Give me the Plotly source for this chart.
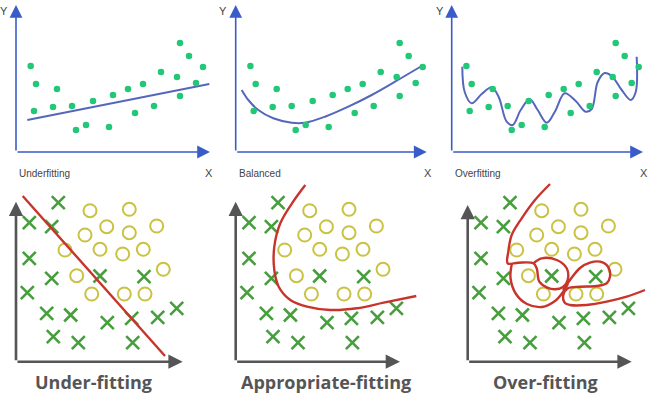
import plotly.graph_objects as go

# ---------------- data ----------------
# Regression panels (same scatter in all three top panels)
REG_X = [14.7, 20, 18, 41, 37, 56, 60, 70, 77, 93, 97, 112, 119, 127, 138, 145, 161, 164, 164, 173, 180, 187]
REG_Y = [86, 68, 41, 63, 45, 46, 22, 27, 51, 25, 57, 63, 39, 68, 46, 80, 75, 56, 109, 96, 69, 85]

UNDER_LINE_X = [11.3, 193.3]
UNDER_LINE_Y = [32, 68]

BAL_CURVE_X = [6, 12.6, 22.6, 37.6, 56, 69.3, 89.3, 112.6, 136, 159.3, 186]
BAL_CURVE_Y = [62, 52, 42, 33.7, 29.3, 29.3, 35.3, 45.3, 57, 70.3, 86]

OVER_CURVE_X = [10.6, 13, 20, 30, 40, 47, 55, 61, 69, 78, 86, 95, 103, 113, 124, 134,
                140, 146, 153, 160, 170, 179, 184, 185]
OVER_CURVE_Y = [85.3, 60, 48.7, 58, 64.7, 55, 30.3, 27, 42, 52.7, 42, 29.3, 40, 58.7, 51, 40.3,
                43, 70, 79, 76, 62, 52, 60, 95.3]

# Classification panels (same points in all three bottom panels)
CROSS_X = [42.3, 13.3, 35.7, 13.3, 35.7, 84, 128, 11.3, 30.7, 54.7, 91.3, 115.7, 141.7, 160.7, 37.3, 62.3, 116.7]
CROSS_Y = [159, 139, 135, 103.4, 83.4, 85.7, 85, 69, 48.4, 46.7, 39, 43.4, 44.4, 53.4, 25, 19, 19]
CIRC_X = [74, 113.3, 90.7, 69, 113.3, 140.7, 49, 84, 106.7, 127.3, 147.3, 60.7, 75.7, 108.3, 129]
CIRC_Y = [151, 152.4, 135, 126.7, 129, 135.7, 111.7, 112.4, 107.7, 112.4, 92.4, 86, 67.7, 67.7, 67.7]

CLS_UNDER_X = [6.7, 149]
CLS_UNDER_Y = [165.7, 5.7]

CLS_BAL_X = [69.6, 56.3, 44.6, 38.6, 38.6, 43, 54.6, 71.3, 94.6, 121.3, 148, 180.6]
CLS_BAL_Y = [176.7, 158.4, 138.4, 115, 91.7, 75, 61.7, 55, 51.7, 53.4, 59, 65.7]

CLS_OVER_A_X = [82.3, 67.3, 54, 44, 40.6, 40, 50.6, 65.6, 69, 71.6, 79, 87.3, 95.6, 100, 99, 89, 74, 65.6]
CLS_OVER_A_Y = [177.7, 161.7, 143.4, 126.7, 110, 98.4, 99, 98.4, 93.4, 80, 74.4, 72.4, 75, 81.7, 93.4, 101.7, 103.4, 98.4]
CLS_OVER_B_X = [44.3, 42.8, 48.3, 59.3, 74.3, 87.3, 95.3, 100.3]
CLS_OVER_B_Y = [98.7, 83.7, 67.7, 57.7, 54.7, 60.7, 69.7, 77.7]
CLS_OVER_C_X = [95.3, 102.3, 112.3, 122.3, 132.3, 140.3, 142.3, 139, 129, 112.3, 100.3, 95.6, 97.3, 102.3, 119, 139, 159, 177.3]
CLS_OVER_C_Y = [71.7, 81.7, 93.7, 99, 100, 95, 85, 78.4, 75.7, 75, 73.4, 66.7, 58.7, 56.7, 56.7, 60, 65, 71.7]

TOP_LABELS = ["Underfitting", "Balanced", "Overfitting"]
BOTTOM_LABELS = ["Under-fitting", "Appropriate-fitting", "Over-fitting"]

# ---------------- layout geometry (pixels) ----------------
W, H = 653, 396
TOP_BOXES = [(0, 218), (218, 435), (435, 653)]
TOP_ORIGIN_X = [16, 235.7, 451.7]
TOP_ORIGIN_Y = 152
TOP_XLEN = [194, 191, 191.3]
TOP_YLEN = 147
BOT_ORIGIN_X = [16, 235.7, 467.7]
BOT_ORIGIN_Y = 361.7
BOT_XLEN = [166.7, 164.3, 164]
BOT_YLEN = [160, 160, 156.7]
SPLIT = 180

BLUE_AX = "#3a5cc8"
BLUE_LINE = "#5567bb"
DOT = "#22c777"
GREEN = "#479e3d"
YELLOW = "#c9c243"
RED = "#c8342c"
GRAY = "#555555"

fig = go.Figure()
layout = dict(width=W, height=H, margin=dict(l=0, r=0, t=0, b=0),
              paper_bgcolor="white", plot_bgcolor="white", showlegend=False)
annotations = []


def ax_ids(i):
    return ("x" if i == 1 else f"x{i}"), ("y" if i == 1 else f"y{i}")


def axis_layout(i, xr, yr, xdom, ydom):
    xk = "xaxis" if i == 1 else f"xaxis{i}"
    yk = "yaxis" if i == 1 else f"yaxis{i}"
    xid, yid = ax_ids(i)
    layout[xk] = dict(domain=xdom, range=xr, visible=False, fixedrange=True, anchor=yid)
    layout[yk] = dict(domain=ydom, range=yr, visible=False, fixedrange=True, anchor=xid)


def arrow(i, x0, y0, x1, y1, color, width, size):
    xid, yid = ax_ids(i)
    annotations.append(dict(x=x1, y=y1, ax=x0, ay=y0, xref=xid, yref=yid, axref=xid, ayref=yid,
                            showarrow=True, arrowhead=2, arrowsize=size, arrowwidth=width,
                            arrowcolor=color, text="", standoff=0))


def label(i, x, y, text, size, color, xanchor="center", family="Liberation Sans, Arial", bold=False):
    xid, yid = ax_ids(i)
    annotations.append(dict(x=x, y=y, xref=xid, yref=yid, text=f"<b>{text}</b>" if bold else text,
                            showarrow=False, xanchor=xanchor, yanchor="middle",
                            font=dict(size=size, color=color, family=family)))


top_fits = [
    (UNDER_LINE_X, UNDER_LINE_Y, "linear"),
    (BAL_CURVE_X, BAL_CURVE_Y, "spline"),
    (OVER_CURVE_X, OVER_CURVE_Y, "spline"),
]
y_lbl_x = [4, 223, 440]
x_lbl_x = [209, 428, 644]

for k in range(3):
    i = k + 1
    xid, yid = ax_ids(i)
    l, r = TOP_BOXES[k]
    ox = TOP_ORIGIN_X[k]
    axis_layout(i, [l - ox, r - ox], [TOP_ORIGIN_Y - SPLIT, TOP_ORIGIN_Y],
                [l / W, r / W], [1 - SPLIT / H, 1])
    fx, fy, shape = top_fits[k]
    fig.add_trace(go.Scatter(x=fx, y=fy, mode="lines", xaxis=xid, yaxis=yid,
                             line=dict(color=BLUE_LINE, width=2, shape=shape, smoothing=1.0),
                             hoverinfo="skip"))
    fig.add_trace(go.Scatter(x=REG_X, y=REG_Y, mode="markers", xaxis=xid, yaxis=yid,
                             marker=dict(color=DOT, size=6.5), hoverinfo="skip"))
    arrow(i, 0, 0, 0, TOP_YLEN, BLUE_AX, 1.6, 1.6)
    arrow(i, 0, 0, TOP_XLEN[k], 0, BLUE_AX, 1.6, 1.6)
    label(i, y_lbl_x[k] - ox, TOP_ORIGIN_Y - 11, "Y", 11, "#444444")
    label(i, x_lbl_x[k] - ox, TOP_ORIGIN_Y - 173, "X", 11, "#444444")
    label(i, 1, TOP_ORIGIN_Y - 173, TOP_LABELS[k], 10, "#444444", xanchor="left")

bot_curves = [
    [(CLS_UNDER_X, CLS_UNDER_Y, "linear")],
    [(CLS_BAL_X, CLS_BAL_Y, "spline")],
    [(CLS_OVER_A_X, CLS_OVER_A_Y, "spline"), (CLS_OVER_B_X, CLS_OVER_B_Y, "spline"),
     (CLS_OVER_C_X, CLS_OVER_C_Y, "spline")],
]
title_cx = [93.5, 325.5, 545.3]

for k in range(3):
    i = k + 4
    xid, yid = ax_ids(i)
    l, r = TOP_BOXES[k]
    ox = BOT_ORIGIN_X[k]
    axis_layout(i, [l - ox, r - ox], [BOT_ORIGIN_Y - H, BOT_ORIGIN_Y - SPLIT],
                [l / W, r / W], [0, 1 - SPLIT / H])
    fig.add_trace(go.Scatter(x=CROSS_X, y=CROSS_Y, mode="markers", xaxis=xid, yaxis=yid,
                             marker=dict(symbol="x-thin-open", size=13, color=GREEN,
                                         line=dict(color=GREEN, width=2.6)),
                             hoverinfo="skip"))
    fig.add_trace(go.Scatter(x=CIRC_X, y=CIRC_Y, mode="markers", xaxis=xid, yaxis=yid,
                             marker=dict(symbol="circle-open", size=13, color=YELLOW,
                                         line=dict(color=YELLOW, width=2)),
                             hoverinfo="skip"))
    for cx, cy, shape in bot_curves[k]:
        fig.add_trace(go.Scatter(x=cx, y=cy, mode="lines", xaxis=xid, yaxis=yid,
                                 line=dict(color=RED, width=2.4, shape=shape, smoothing=1.0),
                                 hoverinfo="skip"))
    arrow(i, 0, 0, 0, BOT_YLEN[k], GRAY, 2.6, 1.1)
    arrow(i, 0, 0, BOT_XLEN[k], 0, GRAY, 2.6, 1.1)
    label(i, title_cx[k] - ox, BOT_ORIGIN_Y - 381.7, BOTTOM_LABELS[k], 18, GRAY,
          family="Open Sans", bold=True)

layout["annotations"] = annotations
fig.update_layout(**layout)
fig.write_html("out.html", config={"displayModeBar": False},
               post_script="document.body.style.margin='0';document.body.style.overflow='hidden';")
